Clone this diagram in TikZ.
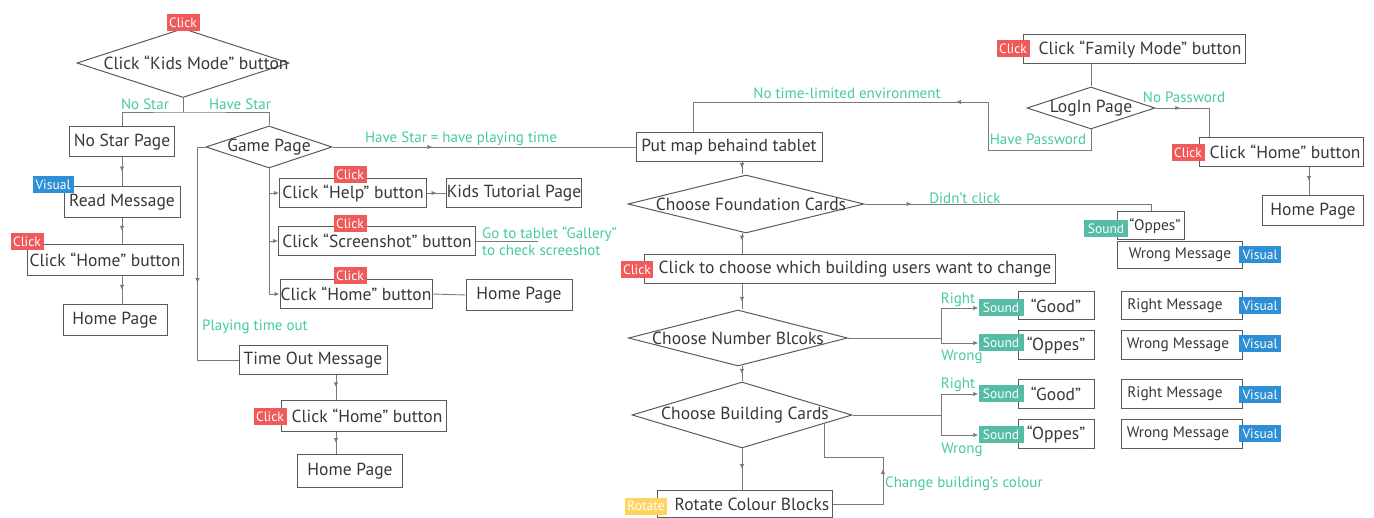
\documentclass[tikz,border=0pt]{standalone}
\usepackage{fontspec}
\setmainfont{PT Sans}
\usepackage{tikz}
\usetikzlibrary{shapes.geometric,arrows.meta,decorations.markings}
\definecolor{clickred}{HTML}{F05A5A}
\definecolor{visualblue}{HTML}{2E8FD4}
\definecolor{soundteal}{HTML}{55BCA6}
\definecolor{rotateyellow}{HTML}{FFD45E}
\definecolor{labelgreen}{HTML}{45C9A2}
\definecolor{boxgray}{HTML}{5A5A5A}
\definecolor{linegray}{HTML}{7A7A7A}
\definecolor{textgray}{HTML}{383838}
\newcommand\boxfont{\fontsize{17.5}{19}\selectfont}
\newcommand\msgfont{\fontsize{15.3}{17}\selectfont}
\newcommand\lblfont{\fontsize{15}{17}\selectfont}
\newcommand\badgefont{\fontsize{13.5}{14}\selectfont}

\begin{document}
\begin{tikzpicture}[x=1pt,y=-1pt,
  box/.style 2 args={draw=boxgray, line width=1pt, inner sep=0pt, minimum width=#1, minimum height=#2, text=textgray, font=\boxfont},
  msg/.style 2 args={box={#1}{#2}, font=\msgfont},
  dia/.style 2 args={diamond, draw=boxgray, line width=1pt, inner sep=0pt, minimum width=#1, minimum height=#2, text=textgray, font=\boxfont},
  tshift/.style={execute at begin node={\hspace*{#1}}},
  badge/.style 2 args={fill=#1, text=white, inner sep=0pt, minimum width=#2, minimum height=17, font=\badgefont},
  lbl/.style={text=labelgreen, inner sep=0pt, font=\lblfont},
  line/.style={draw=linegray, line width=0.9pt},
  tip/.style={-{Latex[length=5pt,width=4.5pt]}},
  midarr/.style={postaction={decorate}, decoration={markings, mark=at position #1 with {\arrow{Latex[length=5pt,width=4.5pt]}}}},
  midarr/.default=0.5]

\useasboundingbox (0,0) rectangle (1374,518);

% kids mode
\node[dia={212}{69}, tshift=26pt] (kids) at (183,63) {\makebox[0pt]{Click “Kids Mode” button}};
\node[box={105}{30}] (nostar) at (122,142) {No Star Page};
\node[dia={126}{42}] (game) at (269,147) {\makebox[0pt]{Game Page}};
\node[box={116}{31}] (readmsg) at (122,202) {Read Message};
\node[box={156}{31}] (khome1) at (105,260) {Click “Home” button};
\node[box={104}{31}] (home1) at (115,320) {Home Page};

% game page
\node[box={147}{29}] (help) at (353,193) {Click “Help” button};
\node[box={135}{29}] (tutorial) at (514,193) {Kids Tutorial Page};
\node[box={197}{29}] (shot) at (377,241) {Click “Screenshot” button};
\node[box={152}{29}] (ghome) at (356,294) {Click “Home” button};
\node[box={106}{31}] (home2) at (519,295) {Home Page};
\node[box={148}{29}] (timeout) at (313,360) {Time Out Message};
\node[box={165}{31}, tshift=6pt] (khome2) at (364,416) {Click “Home” button};
\node[box={105}{32}] (home3) at (350,471) {Home Page};

% family mode
\node[box={186}{29}] (putmap) at (729,147) {Put map behaind tablet};
\node[box={222}{29}, tshift=12pt] (family) at (1134,49) {Click “Family Mode” button};
\node[dia={128}{42}] (login) at (1091,108) {\makebox[0pt]{LogIn Page}};
\node[box={164}{29}, tshift=8pt] (fhome) at (1281,152) {Click “Home” button};
\node[box={101}{30}] (home4) at (1313,211) {Home Page};

% building steps
\node[dia={236}{58}, tshift=10pt] (found) at (746,204) {\makebox[0pt]{Choose Foundation Cards}};
\node[box={411}{29}, tshift=10pt] (choose) at (850,269) {Click to choose which building users want to change};
\node[dia={219}{56}] (number) at (738,338) {\makebox[0pt]{Choose Number Blcoks}};
\node[dia={220}{66}, tshift=6pt] (building) at (742,415) {\makebox[0pt]{Choose Building Cards}};
\node[box={175}{27}, tshift=14pt] (rotate) at (745,504) {Rotate Colour Blocks};

% feedback
\node[msg={67}{28}, tshift=8pt] (oppes0) at (1151,226) {“Oppes”};
\node[msg={125}{27}] (wrong0) at (1180,255) {Wrong Message};
\node[box={76}{28}] (good1) at (1056,306) {“Good”};
\node[box={76}{29}] (oppes1) at (1056,345) {“Oppes”};
\node[msg={121}{28}, tshift=-14pt] (right1) at (1182,306) {Right Message};
\node[msg={121}{29}, tshift=-8pt] (wrong1) at (1182,345) {Wrong Message};
\node[box={76}{29}] (good2) at (1056,394) {“Good”};
\node[box={76}{29}] (oppes2) at (1056,434) {“Oppes”};
\node[msg={121}{29}, tshift=-14pt] (right2) at (1182,394) {Right Message};
\node[msg={121}{29}, tshift=-8pt] (wrong2) at (1182,434) {Wrong Message};

% badges
\node[badge={clickred}{33}] (kidsclick) at (183,23) {Click};
\node[badge={visualblue}{41}] (readvis) at (53,185) {Visual};
\node[badge={clickred}{33}] (khome1click) at (27,242) {Click};
\node[badge={clickred}{33}] (helpclick) at (350,175) {Click};
\node[badge={clickred}{33}] (shotclick) at (350,224) {Click};
\node[badge={clickred}{33}] (ghomeclick) at (350,276) {Click};
\node[badge={clickred}{33}] (khome2click) at (270,417) {Click};
\node[badge={clickred}{33}] (familyclick) at (1013,49) {Click};
\node[badge={clickred}{33}] (fhomeclick) at (1188,153) {Click};
\node[badge={clickred}{32}] (chooseclick) at (637,270) {Click};
\node[badge={rotateyellow}{42}] (rotatetag) at (646,506) {Rotate};
\node[badge={soundteal}{44}] (soppes0) at (1106,229) {Sound};
\node[badge={visualblue}{42}] (vwrong0) at (1260,255) {Visual};
\node[badge={soundteal}{45}] (sgood1) at (1001,308) {Sound};
\node[badge={soundteal}{45}] (soppes1) at (1001,343) {Sound};
\node[badge={visualblue}{42}] (vright1) at (1260,306) {Visual};
\node[badge={visualblue}{42}] (vwrong1) at (1260,344) {Visual};
\node[badge={soundteal}{45}] (sgood2) at (1001,394) {Sound};
\node[badge={soundteal}{45}] (soppes2) at (1001,435) {Sound};
\node[badge={visualblue}{42}] (vright2) at (1260,395) {Visual};
\node[badge={visualblue}{42}] (vwrong2) at (1260,434) {Visual};

% bend points
\coordinate (ks) at (183,112);
\coordinate (tx) at (336,0);
\coordinate (gal) at (538,241);
\coordinate (pw) at (988,150);
\coordinate (nt) at (693,102);
\coordinate (np) at (1209,0);
\coordinate (hx) at (1309,0);
\coordinate (cx) at (742,0);
\coordinate (nb) at (941,338);
\coordinate (bb) at (941,415);
\coordinate (chg) at (883,457);

% kids connectors
\draw[line] (kids.south) -- (ks);
\draw[line] (nostar.north) |- (ks) -| (game.north); %split
\draw[line, midarr] (nostar.south) -- (readmsg.north);
\draw[line, midarr] (readmsg.south) -- (readmsg.south |- khome1.north);
\draw[line, midarr] (readmsg.south |- khome1.south) -- (readmsg.south |- home1.north);

% game connectors
\draw[line, midarr=0.55] (game.west) -- ++(-8,0) |- (timeout.west); %time out
\draw[line, tip] (game.south) |- (help.west);
\draw[line, tip] (game.south) |- (shot.west);
\draw[line, tip] (game.south) |- (ghome.west);
\draw[line, midarr] (help.east) -- (tutorial.west);
\draw[line] (shot.east) -- (gal);
\draw[line] (ghome.east) -- (home2.west);
\draw[line, midarr] (timeout.south -| tx) -- (khome2.north -| tx);
\draw[line, midarr] (khome2.south -| tx) -- (home3.north -| tx);
\draw[line, midarr=0.33] (game.east) -- (game.east -| putmap.west); %have star

% family connectors
\draw[line] (family.south -| login.north) -- (login.north);
\draw[line, midarr=0.41] (login.south) |- (pw) |- (nt) -- (nt |- putmap.north); %have password
\draw[line, midarr=0.3] (login.east) -| (fhome.north -| np); %no password
\draw[line, midarr] (fhome.south -| hx) -- (home4.north -| hx);

% building connectors
\draw[line, midarr] (putmap.south -| cx) -- (found.north -| cx);
\draw[line, midarr=0.35] (found.south -| cx) -- (choose.north -| cx);
\draw[line, midarr=0.7] (choose.south -| cx) -- (number.north -| cx);
\draw[line, midarr] (number.south -| cx) -- (building.north -| cx);
\draw[line, midarr] (building.south -| cx) -- (rotate.north -| cx);
\draw[line, midarr=0.16] (found.east) -| (oppes0.north); %didn't click
\draw[line] (number.east) -- (nb);
\draw[line, tip] (nb) |- (sgood1.west);
\draw[line, tip] (nb) |- (soppes1.west);
\draw[line] (building.east) -- (bb);
\draw[line, tip] (bb) |- (sgood2.west);
\draw[line, tip] (bb) |- (soppes2.west);
\draw[line, midarr=0.45] (rotate.east) -| (chg) -| (building.-6); %colour loop

% labels
\node[lbl] (nostarl) at (145,104) {No Star};
\node[lbl] (havestarl) at (240,104) {Have Star};
\node[lbl] (havetime) at (461,139) {Have Star = have playing time};
\node[lbl, anchor=west, align=left] (gallery) at (482,241) {Go to tablet “Gallery”\\to check screeshot};
\node[lbl] (timeoutl) at (255,327) {Playing time out};
\node[lbl] (notime) at (847,93) {No time-limited environment};
\node[lbl] (havepw) at (1038,139) {Have Password};
\node[lbl] (nopwl) at (1184,97) {No Password};
\node[lbl] (didnt) at (965,198) {Didn’t click};
\node[lbl] (right1l) at (958,300) {Right};
\node[lbl] (wrong1l) at (962,357) {Wrong};
\node[lbl] (right2l) at (958,385) {Right};
\node[lbl] (wrong2l) at (962,450) {Wrong};
\node[lbl, anchor=west] (chgl) at (885,484) {Change building’s colour};
\end{tikzpicture}
\end{document}
